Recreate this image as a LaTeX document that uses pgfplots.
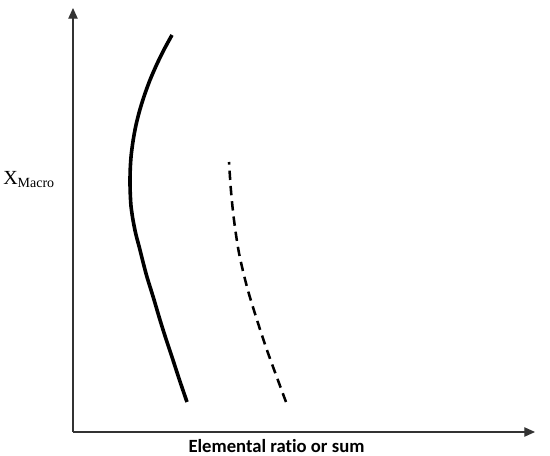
\documentclass[border=0pt]{standalone}
\usepackage{fontspec}
\setmainfont{Liberation Serif}
\newfontfamily\carlito{Carlito}
\usepackage{pgfplots}
\pgfplotsset{compat=1.18}
\usetikzlibrary{arrows.meta}
\begin{document}
\begin{tikzpicture}
\begin{axis}[
  scale only axis,
  width=346.5pt, height=318pt,
  xmin=73, xmax=535, ymin=24, ymax=448,
  axis lines=left,
  axis line style={line width=0.9pt, color=black!80, -{Triangle[length=8pt,width=7pt]}},
  xtick=\empty, ytick=\empty,
  clip=false,
]
\path (axis cs:0,0) rectangle (axis cs:550,456);
\addplot[black, line width=2.7pt, smooth, tension=0.5] coordinates {
(187,54) (179.5,76) (172,99) (166,117) (160,136) (153.5,158) (147,179) (143,194) (139.5,208) (135.8,222) (133,236) (131,250) (130.2,264) (130,276) (130.3,288) (131.2,301) (133.2,316) (136,331) (139.8,346) (144.5,361) (150,376) (156.5,391) (163.8,406) (172,421)
};
\addplot[black, line width=1.9pt, smooth, tension=0.5, dash pattern=on 7pt off 4.5pt] coordinates {
(286,54) (268,103) (257,136) (247,169) (239,203) (234,236) (231,265) (229,294)
};
\node[anchor=west, inner sep=0pt, font=\fontsize{15}{15}\selectfont] at (axis cs:3,276) {X\raisebox{-0.15em}{\fontsize{10.5}{10.5}\selectfont Macro}};
\node[inner sep=0pt, font=\carlito\bfseries\fontsize{14}{14}\selectfont] at (axis cs:276.5,10) {Elemental rat\kern0pt io or sum};
\end{axis}
\end{tikzpicture}
\end{document}
